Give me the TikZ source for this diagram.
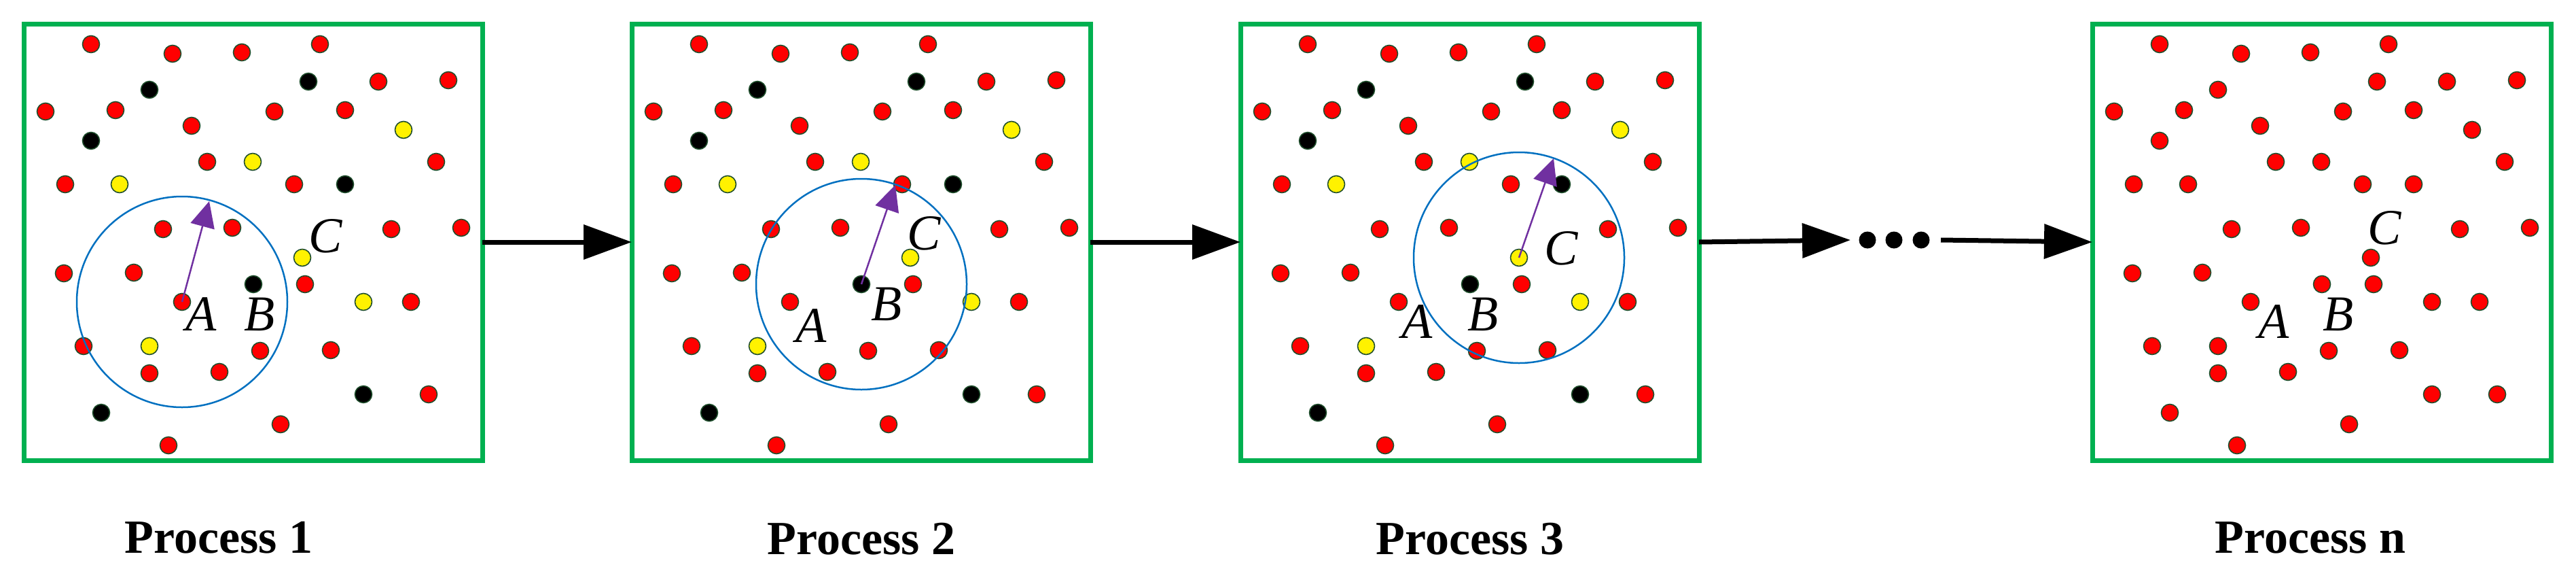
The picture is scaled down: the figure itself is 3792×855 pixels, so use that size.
\documentclass[tikz,border=0pt]{standalone}
\usepackage{fontspec}
\setmainfont{Liberation Serif}
\usetikzlibrary{arrows.meta}
\definecolor{boxgreen}{HTML}{00B050}
\definecolor{ringblue}{HTML}{0070C0}
\definecolor{radpurple}{HTML}{7030A0}
\definecolor{rimgreen}{HTML}{1F4E2C}
% dot positions inside a box (x/y from the top left corner), with colour
\newcommand\dotlist{99/30/red, 219/44/red, 321/42/red, 436/30/red,
  185/97/black, 419/85/black, 522/85/red, 625/83/red,
  32/129/red, 135/127/red, 369/129/red, 473/127/red,
  247/150/red, 559/156/yellow, 99/172/black,
  270/203/red, 337/203/yellow, 607/203/red,
  61/236/red, 141/236/yellow, 398/236/red, 473/236/black,
  205/302/red, 307/300/red, 541/302/red, 644/300/red,
  410/344/yellow, 59/367/red, 162/366/red,
  338/383/black, 414/383/red,
  233/409/red, 500/409/yellow, 570/409/red,
  88/474/red, 185/474/yellow, 348/481/red, 452/480/red,
  185/514/red, 288/512/red, 500/545/black, 596/545/red,
  114/572/black, 378/589/red, 213/620/red}
\tikzset{
  frame/.style = {draw=boxgreen, line width=7pt, minimum width=675pt,
                  minimum height=642pt, anchor=north west, outer sep=0pt},
    dot/.style = {circle, draw=rimgreen, line width=1.6pt, minimum size=25pt, inner sep=0pt},
   ring/.style = {draw=ringblue, line width=2.5pt},
  reach/.style = {draw=radpurple, line width=2.5pt, -{Triangle[length=38pt,width=36pt]}},
   next/.style = {line width=7pt, -{Triangle[length=71pt,width=50pt]}},
 letter/.style = {font=\fontsize{74}{78}\selectfont\itshape, inner sep=0pt},
  title/.style = {font=\fontsize{70}{74}\selectfont\bfseries, inner sep=0pt},
}
\begin{document}
\begin{tikzpicture}[x=1pt, y=-1pt]
\useasboundingbox (0,0) rectangle (3792,855);

\node[frame] (p1) at (35,35) {};
\node[frame] (p2) at (930,35) {};
\node[frame] (p3) at (1826,35) {};
\node[frame] (p4) at (3080,35) {};

% process 1
\begin{scope}[shift={(35,35)}]
  \foreach \x/\y/\c [count=\i] in \dotlist
    \node[dot, fill=\c] (a\i) at (\x,\y) {};
  \coordinate (t1) at (273,261);
  \draw[ring] (a32.center) circle (155);
  \draw[reach] (a32.center) -- (t1);
  \node[letter] (la1) at (261,427) {A};
  \node[letter] (lb1) at (347,427) {B};
  \node[letter] (lc1) at (444,312) {C};
\end{scope}

% process 2
\begin{scope}[shift={(930,35)}]
  \foreach \x/\y/\c [count=\i] in \dotlist
    \node[dot, fill=\c] (b\i) at (\x,\y) {};
  \coordinate (t2) at (388,237);
  \draw[ring] (b30.center) circle (155);
  \draw[reach] (b30.center) -- (t2);
  \node[letter] (la2) at (264,444) {A};
  \node[letter] (lb2) at (375,412) {B};
  \node[letter] (lc2) at (430,308) {C};
\end{scope}

% process 3
\begin{scope}[shift={(1826,35)}]
  \foreach \x/\y/\c [count=\i] in \dotlist
    \node[dot, fill=\c] (c\i) at (\x,\y) {};
  \coordinate (t3) at (461,198);
  \draw[ring] (c27.center) circle (155);
  \draw[reach] (c27.center) -- (t3);
  \node[letter] (la3) at (260,438) {A};
  \node[letter] (lb3) at (357,427) {B};
  \node[letter] (lc3) at (472,330) {C};
\end{scope}

% process n, all red
\begin{scope}[shift={(3080,35)}]
  \foreach \x/\y/\c [count=\i] in \dotlist
    \node[dot, fill=red] (d\i) at (\x,\y) {};
  \node[letter] (la4) at (267,438) {A};
  \node[letter] (lb4) at (362,427) {B};
  \node[letter] (lc4) at (430,300) {C};
\end{scope}

% the three dots
\foreach \x [count=\i] in {2749,2788,2828}
  \node[circle, fill=black, minimum size=25pt, inner sep=0pt] (e\i) at (\x,353) {};

\draw[next] (p1.east) -- (p2.west);
\draw[next] (p2.east) -- (p3.west);
\draw[next] (p3.east) -- ([xshift=-25pt]e1.center);
\draw[next] ([xshift=29pt]e3.center) -- (p4.west);

\node[title] (n1) at (322,791) {Process 1};
\node[title] (n2) at (1268,793) {Process 2};
\node[title] (n3) at (2164,793) {Process 3};
\node[title] (n4) at (3401,791) {Process n};
\end{tikzpicture}
\end{document}
